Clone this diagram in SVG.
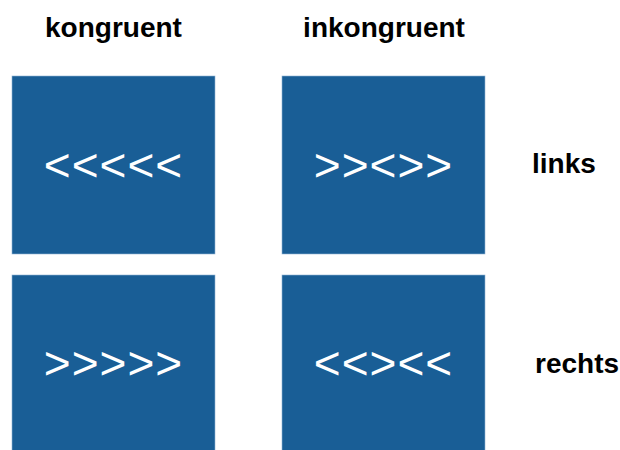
<svg xmlns="http://www.w3.org/2000/svg" width="620" height="450" viewBox="0 0 620 450">
<style>
.box{fill:#195e96;stroke:#8fb3d3;stroke-width:0.6}
.hd{font-family:"Liberation Sans",Arial,sans-serif;font-weight:bold;font-size:28px;fill:#000;text-anchor:middle}
.lb{font-family:"Liberation Sans",Arial,sans-serif;font-weight:bold;font-size:28px;fill:#000;text-anchor:start}
.ar{font-family:"Liberation Sans",Arial,sans-serif;font-size:46px;fill:#fff;text-anchor:middle;letter-spacing:1px}
</style>
<rect width="620" height="450" fill="#fff"/>
<g id="header-kongruent"><text class="hd" x="113.5" y="37">kongruent</text></g>
<g id="header-inkongruent"><text class="hd" x="384" y="37">inkongruent</text></g>
<g id="label-links"><text class="lb" x="532" y="173">links</text></g>
<g id="label-rechts"><text class="lb" x="535" y="373">rechts</text></g>
<g id="box-kongruent-links"><rect class="box" x="12" y="76" width="203" height="178"/><text class="ar" x="113.5" y="181">&lt;&lt;&lt;&lt;&lt;</text></g>
<g id="box-inkongruent-links"><rect class="box" x="282" y="76" width="203" height="178"/><text class="ar" x="383.5" y="181">&gt;&gt;&lt;&gt;&gt;</text></g>
<g id="box-kongruent-rechts"><rect class="box" x="12" y="275" width="203" height="180"/><text class="ar" x="113.5" y="379">&gt;&gt;&gt;&gt;&gt;</text></g>
<g id="box-inkongruent-rechts"><rect class="box" x="282" y="275" width="203" height="180"/><text class="ar" x="383.5" y="379">&lt;&lt;&gt;&lt;&lt;</text></g>
<g id="connectors"/>
</svg>
